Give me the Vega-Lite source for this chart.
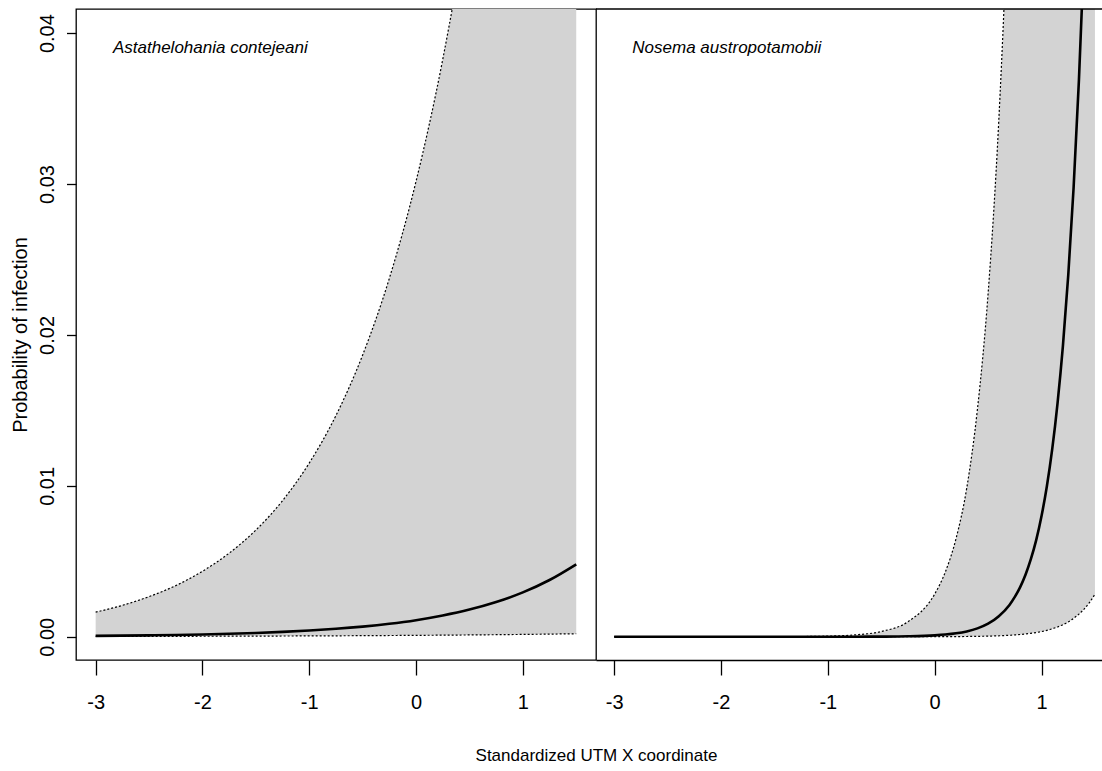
{
  "$schema": "https://vega.github.io/schema/vega-lite/v6.json",
  "background": "white",
  "padding": {"left": 9, "top": 8, "right": 0, "bottom": 0},
  "spacing": 0,
  "bounds": "flush",
  "config": {
    "view": {"stroke": "black", "strokeWidth": 1.3},
    "axis": {"grid": false, "domainColor": "black", "tickColor": "black", "labelColor": "black", "titleColor": "black", "labelFont": "Liberation Sans", "titleFont": "Liberation Sans", "titleFontWeight": "normal"}
  },
  "datasets": {
    "left": [
      {"x": -3, "lower": 0.00002, "mean": 0.0000576, "upper": 0.00163},
      {"x": -2.75, "lower": 0.000023, "mean": 0.0000737, "upper": 0.00208},
      {"x": -2.5, "lower": 0.000026, "mean": 0.000094, "upper": 0.00266},
      {"x": -2.25, "lower": 0.000029, "mean": 0.00012, "upper": 0.00339},
      {"x": -2, "lower": 0.000033, "mean": 0.000154, "upper": 0.00434},
      {"x": -1.75, "lower": 0.000038, "mean": 0.000197, "upper": 0.00554},
      {"x": -1.5, "lower": 0.000043, "mean": 0.000252, "upper": 0.00707},
      {"x": -1.25, "lower": 0.000049, "mean": 0.000322, "upper": 0.00902},
      {"x": -1, "lower": 0.000056, "mean": 0.000412, "upper": 0.01151},
      {"x": -0.75, "lower": 0.000063, "mean": 0.000527, "upper": 0.01466},
      {"x": -0.5, "lower": 0.000072, "mean": 0.000674, "upper": 0.01867},
      {"x": -0.25, "lower": 0.000082, "mean": 0.000861, "upper": 0.02375},
      {"x": 0, "lower": 0.000093, "mean": 0.0011, "upper": 0.03018},
      {"x": 0.25, "lower": 0.000106, "mean": 0.00141, "upper": 0.03826},
      {"x": 0.5, "lower": 0.00012, "mean": 0.0018, "upper": 0.0484},
      {"x": 0.75, "lower": 0.000136, "mean": 0.0023, "upper": 0.061},
      {"x": 1, "lower": 0.000155, "mean": 0.00294, "upper": 0.0768},
      {"x": 1.25, "lower": 0.000176, "mean": 0.00376, "upper": 0.0961},
      {"x": 1.5, "lower": 0.0002, "mean": 0.0048, "upper": 0.1196}
    ],
    "right": [
      {"x": -3, "lower": 0, "mean": 0, "upper": 0.00000001},
      {"x": -2.5, "lower": 0, "mean": 0, "upper": 0.00000008},
      {"x": -2, "lower": 0, "mean": 0, "upper": 0.00000064},
      {"x": -1.5, "lower": 0, "mean": 0.0000001, "upper": 0.0000052},
      {"x": -1.25, "lower": 0, "mean": 0.0000003, "upper": 0.000015},
      {"x": -1, "lower": 0, "mean": 0.0000011, "upper": 0.000043},
      {"x": -0.75, "lower": 0.0000001, "mean": 0.0000033, "upper": 0.000122},
      {"x": -0.5, "lower": 0.0000004, "mean": 0.00001, "upper": 0.000349},
      {"x": -0.25, "lower": 0.0000015, "mean": 0.000031, "upper": 0.000997},
      {"x": 0, "lower": 0.000005, "mean": 0.000094, "upper": 0.00283},
      {"x": 0.1, "lower": 0.000008, "mean": 0.000146, "upper": 0.0043},
      {"x": 0.2, "lower": 0.000012, "mean": 0.000228, "upper": 0.00651},
      {"x": 0.3, "lower": 0.000018, "mean": 0.000355, "upper": 0.00985},
      {"x": 0.4, "lower": 0.000028, "mean": 0.000554, "upper": 0.01507},
      {"x": 0.5, "lower": 0.000042, "mean": 0.000863, "upper": 0.02275},
      {"x": 0.6, "lower": 0.000064, "mean": 0.00136, "upper": 0.03422},
      {"x": 0.7, "lower": 0.000098, "mean": 0.00211, "upper": 0.0512},
      {"x": 0.75, "lower": 0.000121, "mean": 0.00264, "upper": 0.0625},
      {"x": 0.8, "lower": 0.00015, "mean": 0.00329, "upper": 0.0759},
      {"x": 0.85, "lower": 0.000185, "mean": 0.00411, "upper": 0.092},
      {"x": 0.9, "lower": 0.000227, "mean": 0.00514, "upper": 0.111},
      {"x": 0.95, "lower": 0.00028, "mean": 0.0064, "upper": 0.133},
      {"x": 1, "lower": 0.000345, "mean": 0.008, "upper": 0.16},
      {"x": 1.05, "lower": 0.000425, "mean": 0.00997, "upper": 0.19},
      {"x": 1.1, "lower": 0.000526, "mean": 0.01243, "upper": 0.225},
      {"x": 1.15, "lower": 0.00065, "mean": 0.01549, "upper": 0.26},
      {"x": 1.2, "lower": 0.0008, "mean": 0.01926, "upper": 0.3},
      {"x": 1.25, "lower": 0.00098, "mean": 0.02395, "upper": 0.35},
      {"x": 1.3, "lower": 0.00122, "mean": 0.02974, "upper": 0.4},
      {"x": 1.35, "lower": 0.0015, "mean": 0.03689, "upper": 0.45},
      {"x": 1.4, "lower": 0.00185, "mean": 0.04565, "upper": 0.5},
      {"x": 1.45, "lower": 0.00228, "mean": 0.0564, "upper": 0.55},
      {"x": 1.5, "lower": 0.00282, "mean": 0.0695, "upper": 0.61}
    ]
  },
  "resolve": {"scale": {"x": "independent", "y": "independent"}},
  "hconcat": [
    {
      "width": 520,
      "height": 651,
      "layer": [
        {
          "data": {"name": "left"},
          "mark": {"type": "area", "color": "#d3d3d3", "opacity": 1, "clip": true, "interpolate": "monotone"},
          "encoding": {
            "x": {"field": "x", "type": "quantitative", "title": "Standardized UTM X coordinate",
              "scale": {"domain": [-3.184, 1.685], "nice": false, "zero": false},
              "axis": {"values": [-3, -2, -1, 0, 1], "labelExpr": "toString(datum.value)", "domain": false, "tickSize": 15, "tickWidth": 1.3, "labelPadding": 17, "labelFontSize": 20, "titleFontSize": 17, "titleX": 520, "titleAnchor": "middle", "titleAlign": "center", "titlePadding": 35}},
            "y": {"field": "upper", "type": "quantitative", "title": "Probability of infection",
              "scale": {"domain": [-0.00154, 0.0416], "nice": false, "zero": false},
              "axis": {"values": [0, 0.01, 0.02, 0.03, 0.04], "format": ".2f", "labelAngle": 270, "labelAlign": "center", "labelBaseline": "bottom", "domain": false, "tickSize": 9.5, "tickWidth": 1.3, "labelPadding": 9, "labelFontSize": 20, "titleFontSize": 20, "titlePadding": 7}},
            "y2": {"field": "lower"}
          }
        },
        {
          "data": {"name": "left"},
          "mark": {"type": "line", "color": "black", "strokeWidth": 1.2, "strokeDash": [2, 2], "clip": true, "interpolate": "monotone"},
          "encoding": {"x": {"field": "x", "type": "quantitative"}, "y": {"field": "lower", "type": "quantitative"}}
        },
        {
          "data": {"name": "left"},
          "mark": {"type": "line", "color": "black", "strokeWidth": 1.2, "strokeDash": [2, 2], "clip": true, "interpolate": "monotone"},
          "encoding": {"x": {"field": "x", "type": "quantitative"}, "y": {"field": "upper", "type": "quantitative"}}
        },
        {
          "data": {"name": "left"},
          "mark": {"type": "line", "color": "black", "strokeWidth": 2.6, "clip": true, "interpolate": "monotone"},
          "encoding": {"x": {"field": "x", "type": "quantitative"}, "y": {"field": "mean", "type": "quantitative"}}
        },
        {
          "data": {"values": [{"label": "Astathelohania contejeani"}]},
          "mark": {"type": "text", "align": "left", "baseline": "alphabetic", "fontStyle": "italic", "fontSize": 17, "font": "Liberation Sans", "color": "black"},
          "encoding": {
            "x": {"datum": -2.838, "type": "quantitative"},
            "y": {"datum": 0.0387, "type": "quantitative"},
            "text": {"field": "label", "type": "nominal"}
          }
        }
      ]
    },
    {
      "width": 506,
      "height": 651,
      "view": {"stroke": null},
      "layer": [
        {
          "data": {"name": "right"},
          "mark": {"type": "area", "color": "#d3d3d3", "opacity": 1, "clip": true, "interpolate": "monotone"},
          "encoding": {
            "x": {"field": "x", "type": "quantitative", "title": null,
              "scale": {"domain": [-3.17, 1.566], "nice": false, "zero": false},
              "axis": {"values": [-3, -2, -1, 0, 1], "labelExpr": "toString(datum.value)", "domain": true, "domainWidth": 1.3, "tickSize": 15, "tickWidth": 1.3, "labelPadding": 17, "labelFontSize": 20}},
            "y": {"field": "upper", "type": "quantitative", "title": null,
              "scale": {"domain": [-0.00154, 0.0416], "nice": false, "zero": false},
              "axis": null},
            "y2": {"field": "lower"}
          }
        },
        {
          "data": {"name": "right"},
          "mark": {"type": "line", "color": "black", "strokeWidth": 1.2, "strokeDash": [2, 2], "clip": true, "interpolate": "monotone"},
          "encoding": {"x": {"field": "x", "type": "quantitative"}, "y": {"field": "lower", "type": "quantitative"}}
        },
        {
          "data": {"name": "right"},
          "mark": {"type": "line", "color": "black", "strokeWidth": 1.2, "strokeDash": [2, 2], "clip": true, "interpolate": "monotone"},
          "encoding": {"x": {"field": "x", "type": "quantitative"}, "y": {"field": "upper", "type": "quantitative"}}
        },
        {
          "data": {"name": "right"},
          "mark": {"type": "line", "color": "black", "strokeWidth": 2.6, "clip": true, "interpolate": "monotone"},
          "encoding": {"x": {"field": "x", "type": "quantitative"}, "y": {"field": "mean", "type": "quantitative"}}
        },
        {
          "data": {"values": [{"top": 0.0416}]},
          "mark": {"type": "rule", "color": "black", "strokeWidth": 1.3},
          "encoding": {"y": {"field": "top", "type": "quantitative"}}
        },
        {
          "data": {"values": [{"label": "Nosema austropotamobii"}]},
          "mark": {"type": "text", "align": "left", "baseline": "alphabetic", "fontStyle": "italic", "fontSize": 17, "font": "Liberation Sans", "color": "black"},
          "encoding": {
            "x": {"datum": -2.83, "type": "quantitative"},
            "y": {"datum": 0.0387, "type": "quantitative"},
            "text": {"field": "label", "type": "nominal"}
          }
        }
      ]
    }
  ]
}
